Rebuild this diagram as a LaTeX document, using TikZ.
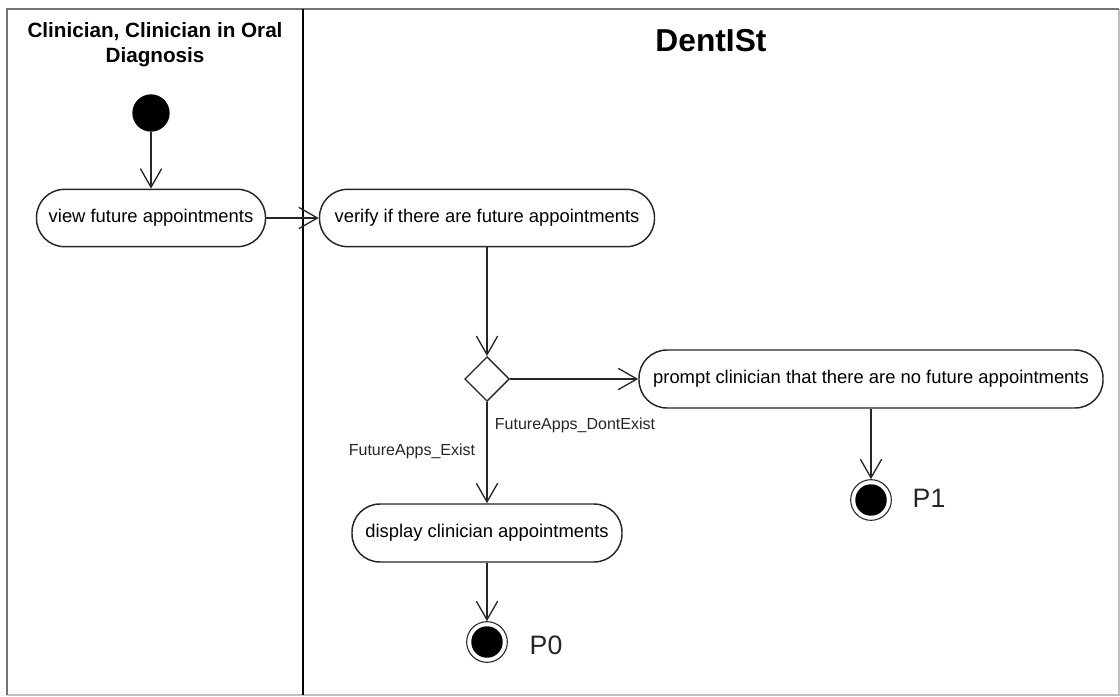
\documentclass[tikz,border=0pt]{standalone}
\usepackage{fontspec}
\setmainfont{Liberation Sans}
\usetikzlibrary{arrows.meta,shapes.geometric}
\begin{document}
\begin{tikzpicture}[x=0.75pt,y=-0.75pt,
  action/.style={draw=black!85,line width=1.1pt,rounded corners=21pt,
    minimum height=43pt,inner sep=0pt,fill=white,
    font=\fontsize{13.8}{16}\selectfont},
  flow/.style={draw=black!85,line width=1pt,
    -{Straight Barb[length=14pt,width=16pt,line width=1pt]}},
  startnode/.style={circle,fill=black,minimum size=28pt,inner sep=0pt},
  endnode/.style={circle,draw=black!85,line width=0.8pt,fill=white,
    minimum size=30.5pt,inner sep=0pt,
    path picture={\fill[black] (path picture bounding box.center) circle (11.8pt);}},
  decision/.style={diamond,draw=black!85,line width=1pt,fill=white,aspect=1,
    minimum size=33.5pt,inner sep=0pt},
  guard/.style={font=\fontsize{12}{14}\selectfont,text=black!85},
  endlabel/.style={font=\fontsize{20}{24}\selectfont,text=black!85},
  lanehead/.style={font=\bfseries\fontsize{15.5}{18.75}\selectfont,align=center}
]
\useasboundingbox (0,0) rectangle (1120,696);

% swimlane frame
\draw[black!25,line width=1.5pt] (7,695) -- (1119,695) -- (1119,9);
\draw[black!55,line width=2.2pt] (7,695) -- (7,9) -- (1119,9);
\draw[black,line width=1.4pt] (303,9) -- (303,695);

% lane titles
\node[lanehead] (lane1) at (155,45) {Clinician, Clinician in Oral\\Diagnosis};
\node[font=\bfseries\fontsize{23.8}{28}\selectfont] (lane2) at (711,41) {DentISt};

% activities
\node[startnode] (init) at (151,113) {};
\node[action,minimum width=171.75pt] (view) at (151,218) {view future appointments};
\node[action,minimum width=251.25pt] (verify) at (487,218) {verify if there are future appointments};
\node[decision] (dec) at (487,379) {};
\node[action,minimum width=348pt,minimum height=43.5pt] (prompt) at (871,379)
  {prompt clinician that there are no future appointments};
\node[action,minimum width=202.5pt,minimum height=43.5pt] (display) at (487,533)
  {display clinician appointments};
\node[endnode] (p0) at (487,642) {};
\node[endnode] (p1) at (871,500) {};

% guards and end labels
\node[guard] (gno) at (575,425) {FutureApps\_DontExist};
\node[guard] (gyes) at (412,451) {FutureApps\_Exist};
\node[endlabel,anchor=west] (l0) at (525,645) {P0};
\node[endlabel,anchor=west] (l1) at (908,498) {P1};

% transitions
\draw[flow] (init) -- (view);
\draw[flow] (view) -- (verify);
\draw[flow] (verify) -- (dec);
\draw[flow] (dec) -- (prompt);
\draw[flow] (dec) -- (display);
\draw[flow] (display) -- (p0);
\draw[flow] (prompt) -- (p1);
\end{tikzpicture}
\end{document}
